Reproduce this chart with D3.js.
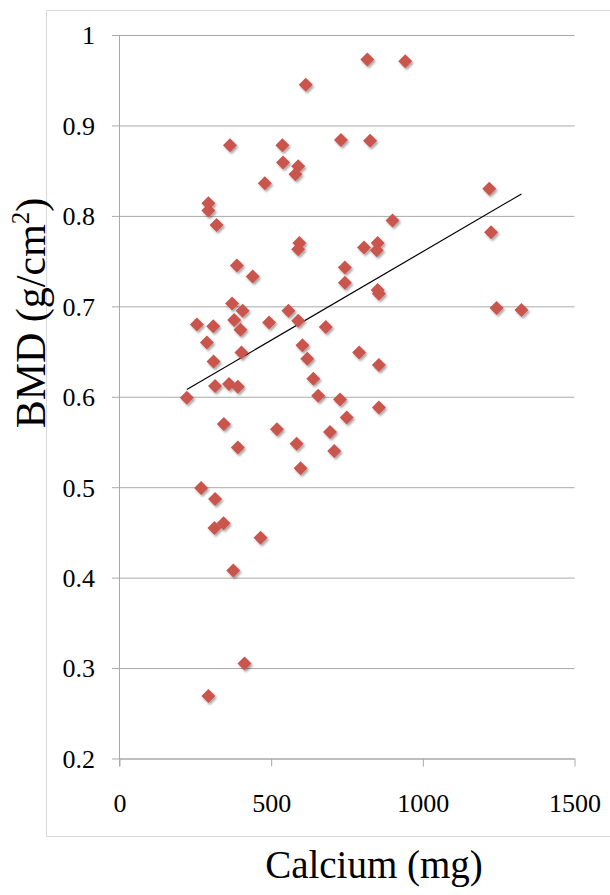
<!DOCTYPE html>
<html>
<head>
<meta charset="utf-8">
<script src="https://cdn.jsdelivr.net/npm/d3@7"></script>
<style>
    body { margin: 0; background: #fff; }
    svg { display: block; }
    .tick text { font-family: 'Liberation Serif', 'Times New Roman', serif; fill: #000; }
</style>
</head>
<body>
<div id="chart"></div>
<script>
// Calcium intake (mg) vs bone mineral density (g/cm2)
var calcium = [
    614, 364, 537, 730, 539, 589, 580, 479, 293, 293,
    320, 593, 589, 387, 743, 817, 942, 826, 1219, 1225,
    900, 806, 851, 848, 439, 743, 371, 406, 378, 399,
    255, 309, 288, 310, 402, 493, 557, 589, 680, 603,
    619, 639, 655, 727, 749, 315, 361, 390, 222, 344,
    519, 584, 390, 694, 708, 597, 269, 315, 790, 851,
    855, 1243, 1325, 855, 855, 343, 313, 465, 375, 412,
    293
];
var bmd = [
    0.945, 0.878, 0.878, 0.884, 0.859, 0.855, 0.846, 0.836, 0.814, 0.806,
    0.790, 0.770, 0.763, 0.745, 0.743, 0.973, 0.971, 0.883, 0.830, 0.782,
    0.795, 0.765, 0.770, 0.762, 0.733, 0.726, 0.703, 0.695, 0.685, 0.674,
    0.680, 0.678, 0.660, 0.639, 0.649, 0.682, 0.695, 0.684, 0.677, 0.657,
    0.642, 0.620, 0.601, 0.597, 0.577, 0.612, 0.614, 0.611, 0.599, 0.570,
    0.564, 0.548, 0.544, 0.561, 0.540, 0.521, 0.499, 0.487, 0.649, 0.718,
    0.714, 0.698, 0.696, 0.635, 0.588, 0.460, 0.455, 0.444, 0.408, 0.305,
    0.269
];

// linear trendline (as drawn in the picture), over the data's x range
var trendIntercept = 0.5645;
var trendSlope = 0.000196;

var xTicks = [0, 500, 1000, 1500];
var yTicks = [0.2, 0.3, 0.4, 0.5, 0.6, 0.7, 0.8, 0.9, 1];

var xTitle = 'Calcium (mg)';
var yTitle = 'BMD (g/cm';

var width = 610;
var height = 895;
var plot = {left: 119.5, right: 574.5, top: 35, bottom: 758.5};
var gridColor = '#a9a9a9';
var markerColor = '#c9554e';

var svg = d3.select('#chart').append('svg')
    .attr('width', width)
    .attr('height', height);

var defs = svg.append('defs');
var shadow = defs.append('filter')
    .attr('id', 'shadow')
    .attr('x', '-50%').attr('y', '-50%')
    .attr('width', '200%').attr('height', '200%');
shadow.append('feDropShadow')
    .attr('dx', 1.5).attr('dy', 2)
    .attr('stdDeviation', 1)
    .attr('flood-color', '#000')
    .attr('flood-opacity', 0.35);

// chart area border
svg.append('rect')
    .attr('x', 46.5)
    .attr('y', 10.5)
    .attr('width', 620)
    .attr('height', 826)
    .attr('fill', 'none')
    .attr('stroke', '#d9d9d9')
    .attr('stroke-width', 1);

var xScale = d3.scaleLinear()
    .domain([0, 1500])
    .range([plot.left, plot.right]);

var yScale = d3.scaleLinear()
    .domain([0.2, 1])
    .range([plot.bottom, plot.top]);

// horizontal gridlines
svg.append('g')
    .attr('class', 'grid')
    .attr('transform', 'translate(' + plot.left + ',0)')
    .call(d3.axisLeft(yScale)
        .tickValues(yTicks)
        .tickSize(-(plot.right - plot.left))
        .tickFormat(''))
    .call(g => g.select('.domain').remove())
    .call(g => g.selectAll('line').attr('stroke', gridColor));

// y axis with labels
var yAxis = svg.append('g')
    .attr('class', 'axis y-axis')
    .attr('transform', 'translate(' + plot.left + ',0)')
    .call(d3.axisLeft(yScale)
        .tickValues(yTicks)
        .tickSize(7.5)
        .tickSizeOuter(0)
        .tickPadding(17)
        .tickFormat(d3.format('~g')));
yAxis.select('.domain').remove();
yAxis.selectAll('line').attr('stroke', gridColor);
yAxis.selectAll('text').attr('font-size', 26).attr('dy', '0.34em');
yAxis.append('line')
    .attr('x1', 0).attr('x2', 0)
    .attr('y1', plot.top).attr('y2', plot.bottom + 8)
    .attr('stroke', gridColor);

// x axis
var xAxis = svg.append('g')
    .attr('class', 'axis x-axis')
    .attr('transform', 'translate(0,' + plot.bottom + ')')
    .call(d3.axisBottom(xScale)
        .tickValues(xTicks)
        .tickSize(8)
        .tickSizeOuter(0)
        .tickPadding(27)
        .tickFormat(d3.format('d')));
xAxis.select('.domain').attr('stroke', gridColor);
xAxis.selectAll('line').attr('stroke', gridColor);
xAxis.selectAll('text').attr('font-size', 26);

// trendline
var xMin = d3.min(calcium);
var xMax = d3.max(calcium);
var trend = [xMin, xMax].map(x => [x, trendIntercept + trendSlope * x]);
svg.append('path')
    .datum(trend)
    .attr('fill', 'none')
    .attr('stroke', '#000')
    .attr('stroke-width', 1.2)
    .attr('d', d3.line()
        .x(d => xScale(d[0]))
        .y(d => yScale(d[1])));

// diamond markers
var diamond = d3.symbol().type(d3.symbolSquare).size(98);
var points = calcium.map((c, i) => ({x: c, y: bmd[i]}));
svg.append('g')
    .attr('class', 'points')
    .attr('filter', 'url(#shadow)')
    .selectAll('path')
    .data(points).enter()
    .append('path')
        .attr('d', diamond)
        .attr('transform', d => 'translate(' + xScale(d.x) + ',' + yScale(d.y) + ') rotate(45)')
        .attr('fill', markerColor);

// axis titles
svg.append('text')
    .attr('x', 374)
    .attr('y', 878)
    .attr('text-anchor', 'middle')
    .attr('font-family', "'Liberation Serif', 'Times New Roman', serif")
    .attr('font-size', 39)
    .text(xTitle);

var yt = svg.append('text')
    .attr('transform', 'translate(45,313) rotate(-90)')
    .attr('text-anchor', 'middle')
    .attr('font-family', "'Liberation Serif', 'Times New Roman', serif")
    .attr('font-size', 42)
    .text(yTitle);
yt.append('tspan')
    .attr('font-size', 25)
    .attr('dy', -16)
    .text('2');
yt.append('tspan')
    .attr('dy', 16)
    .text(')');
</script>
</body>
</html>
